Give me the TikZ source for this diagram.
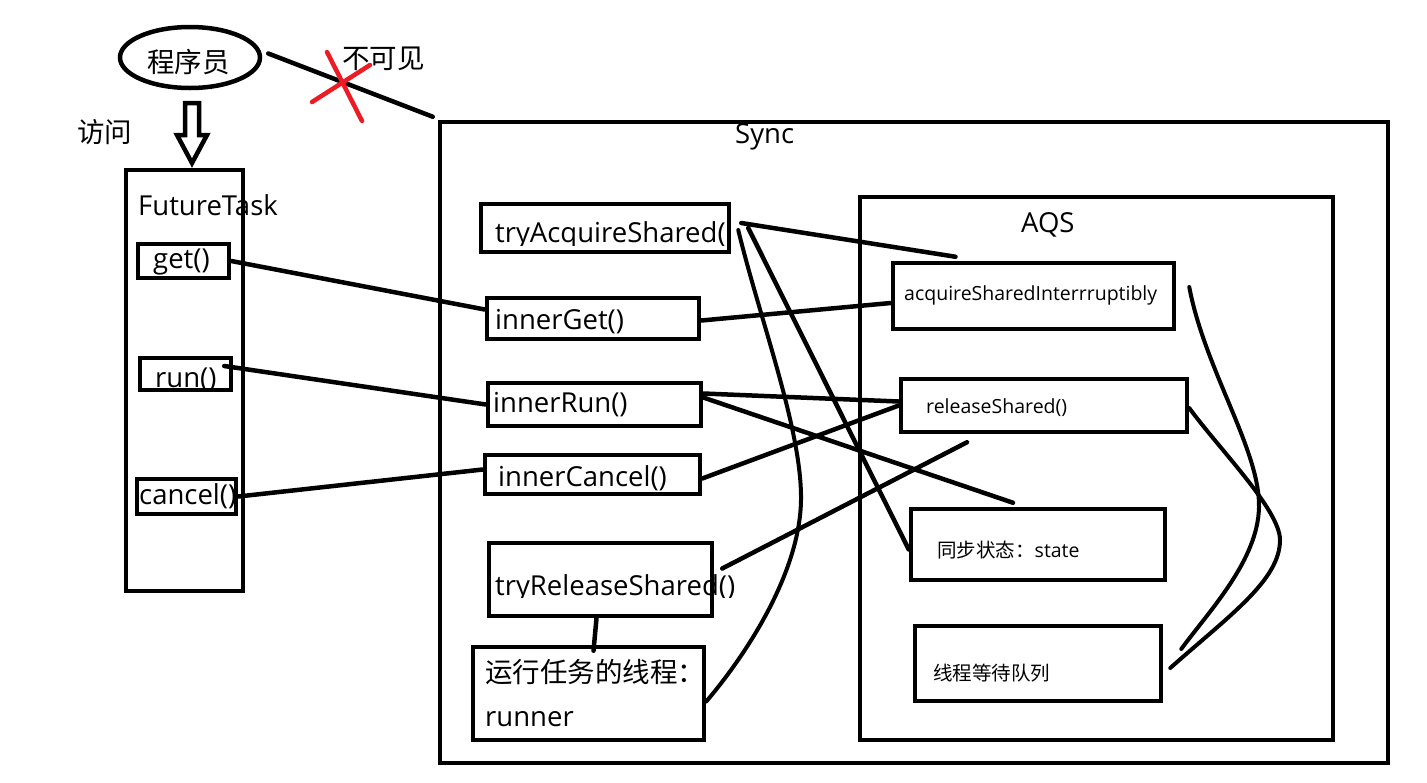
\documentclass[tikz,border=0pt]{standalone}
\usepackage{fontspec}
\setmainfont{Open Sans}
\newfontfamily\cjk{Noto Sans CJK SC}
\usetikzlibrary{shapes.geometric}
\definecolor{xred}{RGB}{237,28,36}
\tikzset{
  box/.style={draw, line width=4.5pt, rectangle, inner sep=0pt},
  conn/.style={line width=4.5pt, line cap=round},
  curveconn/.style={line width=4pt, line cap=round},
  big/.style={font=\fontsize{27.5}{31}\selectfont, inner sep=0pt, anchor=base west},
  small/.style={font=\fontsize{19.5}{22}\selectfont, inner sep=0pt, anchor=base west},
}
\begin{document}
\begin{tikzpicture}[x=1pt,y=-1pt]
\useasboundingbox (0,0) rectangle (1427,782);
\fill[white] (0,0) rectangle (1427,782);

% programmer ellipse
\node[ellipse, draw, line width=4.5pt, minimum width=140pt, minimum height=61pt, inner sep=0pt] (prog) at (190,57.5) {};
\node[big] (tprog) at (147,72) {\cjk 程序员};
\node[big] (tbkj) at (342,68) {\cjk 不可见};
\node[big] (tfw) at (77,142) {\cjk 访问};

% FutureTask
\node[box, minimum width=117pt, minimum height=421pt] (ft) at (184.5,380.5) {};
\node[big] (tft) at (138,215) {FutureTask};
\node[box, minimum width=91pt, minimum height=34pt] (get) at (183.5,261) {};
\node[big] (tget) at (153,268) {get()};
\node[box, minimum width=91pt, minimum height=32pt] (run) at (185.5,374) {};
\begin{scope}
\clip (140,356) rectangle (231,388);
\node[big] (trun) at (155,387) {run()};
\end{scope}
\node[box, minimum width=99pt, minimum height=35pt] (cancel) at (186.5,496.5) {};
\node[big] (tcancel) at (139,504) {cancel()};

% hollow arrow
\draw[line width=4.5pt, line join=miter] (185,103) -- (199,103) -- (199,135) -- (207,135) -- (192,163) -- (177,135) -- (185,135) -- cycle;

% Sync
\node[box, minimum width=948pt, minimum height=641pt] (sync) at (914,442.5) {};
\node[big] (tsync) at (735,143) {Sync};
\node[box, minimum width=248pt, minimum height=48pt] (tas) at (605,228) {};
\begin{scope}
\clip (481,204) rectangle (728,245);
\node[big] (ttas) at (495,242) {tryAcquireShared(};
\end{scope}
\node[box, minimum width=212pt, minimum height=41pt] (iget) at (593,318.5) {};
\node[big] (tiget) at (495,329) {innerGet()};
\node[box, minimum width=213pt, minimum height=43pt] (irun) at (594.5,404.5) {};
\node[big] (tirun) at (493,412) {innerRun()};
\node[box, minimum width=215pt, minimum height=39pt] (icancel) at (592.5,474.5) {};
\node[big] (ticancel) at (498,486) {innerCancel()};
\node[box, minimum width=223pt, minimum height=73pt] (trs) at (600.5,579.5) {};
\begin{scope}
\clip (470,540) rectangle (770,597);
\node[big] (ttrs) at (495,595) {tryReleaseShared()};
\end{scope}
\node[box, minimum width=231pt, minimum height=93pt] (runner) at (588.5,693.5) {};
\node[big] (trunner1) at (485,682) {\cjk 运行任务的线程：};
\node[big] (trunner2) at (485,726) {runner};

% AQS
\node[box, minimum width=473pt, minimum height=543pt] (aqs) at (1096.5,468.5) {};
\node[big] (taqs) at (1021,232) {AQS};
\node[box, minimum width=281pt, minimum height=66pt] (asi) at (1033.5,296) {};
\node[small] (tasi) at (904,300) {acquireSharedInterrruptibly};
\node[box, minimum width=286pt, minimum height=53pt] (rs) at (1044,405.5) {};
\node[small] (trs2) at (926,413) {releaseShared()};
\node[box, minimum width=254pt, minimum height=71pt] (state) at (1038,544.5) {};
\node[small] (tstate) at (937,557) {{\cjk 同步状态：}state};
\node[box, minimum width=246pt, minimum height=75pt] (queue) at (1038,663.5) {};
\node[small] (tqueue) at (933,680) {\cjk 线程等待队列};

% connectors
\draw[conn] ([xshift=6pt,yshift=4pt]prog.east) -- ([xshift=-5pt,yshift=3pt]sync.north west);
\draw[conn] (get.east) -- ([yshift=9pt]iget.west);
\draw[conn] ([xshift=-9pt,yshift=8pt]run.east) -- (irun.west);
\draw[conn] (cancel.east) -- ([yshift=5pt]icancel.west);
\draw[conn] ([xshift=10pt,yshift=5pt]tas.east) -- ([xshift=-78pt,yshift=4pt]asi.north);
\draw[conn] ([yshift=-2pt]iget.east) -- ([yshift=-7pt]asi.west);
\draw[conn] ([yshift=11pt]irun.east) -- ([yshift=4pt]rs.west);
\draw[conn] ([yshift=7pt]irun.east) -- ([xshift=-25pt,yshift=4pt]state.north);
\draw[conn] ([yshift=-4pt]icancel.east) -- (rs.west);
\draw[conn] ([xshift=8pt,yshift=11pt]trs.east) -- ([xshift=-77pt,yshift=-8pt]rs.south);
\draw[conn] ([xshift=17pt]tas.east) -- ([yshift=-5pt]state.west);
\draw[conn] ([xshift=-4pt]trs.south) -- ([xshift=5pt,yshift=-6pt]runner.north);
\draw[curveconn] ([xshift=7pt,yshift=-2pt]tas.east) .. controls (760,320) and (802,430) .. (801,500) .. controls (800,570) and (750,650) .. ([yshift=-8pt]runner.east);
\draw[curveconn] ([xshift=13pt,yshift=9pt]asi.east) .. controls (1205,370) and (1260,450) .. (1259,507) .. controls (1258,560) and (1210,610) .. ([xshift=18pt,yshift=14.5pt]queue.east);
\draw[curveconn] ([yshift=-2.5pt]rs.east) .. controls (1220,450) and (1280,510) .. (1280,540) .. controls (1280,580) and (1230,615) .. ([xshift=7pt,yshift=-4.5pt]queue.east);

% red cross
\draw[xred, line width=4.5pt, line cap=round] (327,52) -- (362,121);
\draw[xred, line width=4.5pt, line cap=round] (312,102) -- (370,65);
\end{tikzpicture}
\end{document}
